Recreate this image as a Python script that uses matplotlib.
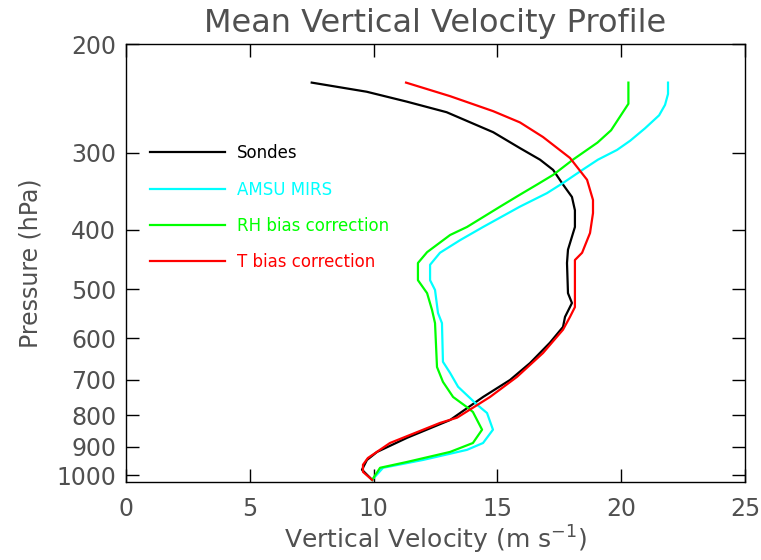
import matplotlib.pyplot as plt
from matplotlib.ticker import NullLocator

# pressure levels (hPa) and vertical velocity (m/s)
SONDES_P = [231, 239, 248, 258, 278, 295, 308, 320, 338, 354, 372, 396, 431, 453,
            507, 526, 554, 575, 610, 658, 701, 747, 814, 870, 917, 945, 980, 1018]
SONDES_V = [7.50, 9.72, 11.34, 12.95, 14.83, 15.91, 16.72, 17.25, 17.65, 18.01, 18.13,
            18.13, 17.85, 17.81, 17.85, 18.01, 17.73, 17.65, 17.12, 16.32, 15.51, 14.42,
            13.09, 11.35, 10.14, 9.73, 9.53, 9.94]

AMSU_P = [231, 241, 251, 261, 274, 287, 297, 308, 321, 336, 349, 367, 396, 416, 436,
          456, 483, 501, 546, 567, 655, 683, 719, 769, 793, 844, 887, 910, 945, 973, 1018]
AMSU_V = [21.89, 21.89, 21.77, 21.53, 20.96, 20.36, 19.83, 19.06, 18.38, 17.65, 17.00,
          15.91, 14.42, 13.49, 12.68, 12.28, 12.28, 12.48, 12.60, 12.76, 12.80, 13.09,
          13.41, 14.18, 14.58, 14.82, 14.42, 13.77, 11.99, 10.38, 9.94]

RH_P = [231, 250, 276, 289, 308, 326, 338, 351, 367, 396, 408, 435, 453, 483, 507,
        540, 567, 668, 706, 747, 778, 790, 844, 887, 917, 952, 973, 1018]
RH_V = [20.29, 20.29, 19.59, 19.04, 18.05, 17.25, 16.60, 15.91, 15.11, 13.77, 13.09,
        12.16, 11.79, 11.79, 12.16, 12.36, 12.48, 12.56, 12.80, 13.21, 13.81, 14.01,
        14.38, 14.01, 13.09, 11.35, 10.26, 9.94]

T_P = [231, 243, 257, 268, 283, 306, 332, 358, 376, 405, 436, 448, 534, 554, 581,
       634, 693, 747, 807, 823, 887, 938, 962, 988, 1018]
T_V = [11.31, 13.09, 14.83, 15.91, 16.84, 17.93, 18.62, 18.86, 18.86, 18.74, 18.42,
       18.13, 18.13, 17.93, 17.65, 16.84, 15.79, 14.70, 13.37, 12.68, 10.66, 9.77,
       9.57, 9.57, 9.94]

P_TICKS = [200, 300, 400, 500, 600, 700, 800, 900, 1000]
V_TICKS = [0, 5, 10, 15, 20, 25]

TEXT = "#505050"

fig = plt.figure(figsize=(7.61, 5.60), dpi=100)
ax = fig.add_axes([0.1656, 0.1393, 0.8134, 0.7821])

series = [
    (SONDES_V, SONDES_P, "black", "Sondes"),
    (AMSU_V, AMSU_P, "#00ffff", "AMSU MIRS"),
    (RH_V, RH_P, "#00ff00", "RH bias correction"),
    (T_V, T_P, "#ff0000", "T bias correction"),
]
for v, p, color, label in series:
    ax.plot(v, p, color=color, lw=1.6, label=label)

ax.set_yscale("log")
ax.set_ylim(1026, 200)
ax.set_xlim(0, 25)
ax.set_yticks(P_TICKS, [str(t) for t in P_TICKS])
ax.yaxis.set_minor_locator(NullLocator())
ax.set_xticks(V_TICKS, [str(t) for t in V_TICKS])

ax.tick_params(axis="both", direction="in", length=9.5, width=1,
               top=True, right=True, labelsize=17, labelcolor=TEXT)
ax.tick_params(axis="x", pad=11)
ax.tick_params(axis="y", pad=7)
for s in ax.spines.values():
    s.set_linewidth(1)

ax.set_title("Mean Vertical Velocity Profile", fontsize=23, color=TEXT, pad=9)
ax.set_xlabel("Vertical Velocity (m s$^{-1}$)", fontsize=18, color=TEXT, labelpad=2)
ax.set_ylabel("Pressure (hPa)", fontsize=17, color=TEXT, labelpad=10)

ax.legend(loc="upper left", bbox_to_anchor=(0.039, 0.771), frameon=False,
          fontsize=12, handlelength=4.5, handletextpad=0.7, labelspacing=1.1,
          borderpad=0, borderaxespad=0, labelcolor="linecolor")

fig.savefig("out.png", dpi=100)
